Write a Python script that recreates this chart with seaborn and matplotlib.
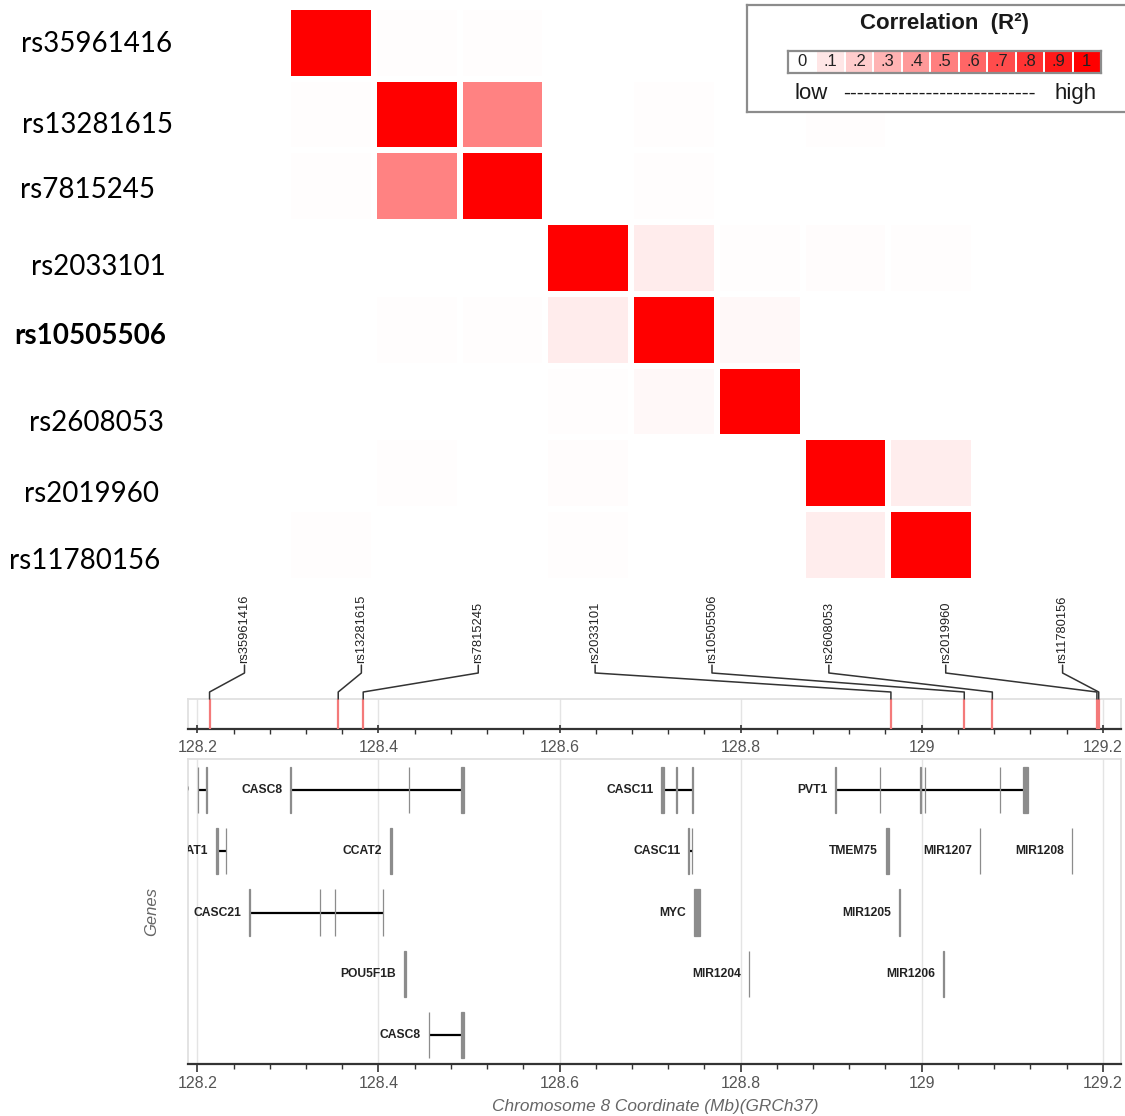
"""
LD matrix of 8 SNPs around 8q24 (chr8, GRCh37) with SNP position track and gene track.
"""

import numpy as np
import pandas as pd
import matplotlib
matplotlib.use('Agg')
import matplotlib.pyplot as plt
import matplotlib.transforms as mtransforms
from matplotlib.colors import LinearSegmentedColormap
from matplotlib.ticker import MultipleLocator, FuncFormatter
import seaborn as sns

# -------------------------------
# 1. DATA
# -------------------------------
snp_ids = ["rs35961416", "rs13281615", "rs7815245", "rs2033101",
           "rs10505506", "rs2608053", "rs2019960", "rs11780156"]
lead_snp = "rs10505506"

# pairwise R2 (symmetric)
ld_r2 = [
    [1.000, 0.010, 0.010, 0.000, 0.000, 0.000, 0.000, 0.008],
    [0.010, 1.000, 0.490, 0.000, 0.008, 0.000, 0.010, 0.000],
    [0.010, 0.490, 1.000, 0.000, 0.008, 0.000, 0.000, 0.000],
    [0.000, 0.000, 0.000, 1.000, 0.075, 0.008, 0.012, 0.008],
    [0.000, 0.008, 0.008, 0.075, 1.000, 0.028, 0.000, 0.000],
    [0.000, 0.000, 0.000, 0.008, 0.028, 1.000, 0.000, 0.000],
    [0.000, 0.010, 0.000, 0.012, 0.000, 0.000, 1.000, 0.072],
    [0.008, 0.000, 0.000, 0.008, 0.000, 0.000, 0.072, 1.000],
]

# SNP positions (Mb, GRCh37)
snp_pos_mb = [128.2135, 128.3556, 128.3832, 128.9660,
              129.0470, 129.0780, 129.1935, 129.1955]

key_levels = [0.0, 0.1, 0.2, 0.3, 0.4, 0.5, 0.6, 0.7, 0.8, 0.9, 1.0]
key_text = ["0", ".1", ".2", ".3", ".4", ".5", ".6", ".7", ".8", ".9", "1"]

gene_names = ["CASC19", "CASC8", "CASC11", "PVT1",
              "CCAT1", "CCAT2", "CASC11", "TMEM75", "MIR1207", "MIR1208",
              "CASC21", "MYC", "MIR1205",
              "POU5F1B", "MIR1204", "MIR1206",
              "CASC8"]
gene_rows = [0, 0, 0, 0,
             1, 1, 1, 1, 1, 1,
             2, 2, 2,
             3, 3, 3,
             4]
gene_exon_starts = [
    [128.2005, 128.2097],
    [128.3027, 128.4334, 128.4915],
    [128.7124, 128.7287, 128.7464],
    [128.9045, 128.9534, 128.9983, 129.0035, 129.0861, 129.1114],
    [128.2203, 128.2316],
    [128.4128],
    [128.7422, 128.7459],
    [128.9606],
    [129.0643],
    [129.1659],
    [128.2575, 128.3351, 128.3517, 128.4050],
    [128.7481],
    [128.9751],
    [128.4283],
    [128.8089],
    [129.0237],
    [128.4558, 128.4915],
]
gene_exon_ends = [
    [128.2010, 128.2102],
    [128.3032, 128.4339, 128.4948],
    [128.7156, 128.7292, 128.7469],
    [128.9050, 128.9539, 128.9988, 129.0040, 129.0866, 129.1177],
    [128.2232, 128.2321],
    [128.4153],
    [128.7427, 128.7464],
    [128.9640],
    [129.0648],
    [129.1664],
    [128.2580, 128.3356, 128.3522, 128.4055],
    [128.7548],
    [128.9756],
    [128.4309],
    [128.8094],
    [129.0242],
    [128.4563, 128.4948],
]

# -------------------------------
# 2. FIGURE SETUP
# -------------------------------
sns.set_style('white')
plt.rcParams['font.family'] = ['Liberation Sans', 'DejaVu Sans']

W, H = 1125, 1116
fig = plt.figure(figsize=(W / 100, H / 100), dpi=100)


def add_px_axes(left, top, right, bottom):
    return fig.add_axes([left / W, 1 - bottom / H, (right - left) / W, (bottom - top) / H])


ld_cmap = LinearSegmentedColormap.from_list('ld', ['#ffffff', '#ff0000'])
x_lo, x_hi = 128.1897, 129.2201

# -------------------------------
# 3. LD HEATMAP
# -------------------------------
ax_hm = add_px_axes(288, 7, 974, 581)
ld_df = pd.DataFrame(ld_r2, index=snp_ids, columns=snp_ids)
sns.heatmap(ld_df, cmap=ld_cmap, vmin=0, vmax=1, cbar=False,
            linewidths=3.0, linecolor='white',
            xticklabels=False, yticklabels=False, ax=ax_hm)

# row labels were placed by hand in the original, so nudge each one
label_dx = [4, 4, -5, 5, -3, 3, -1, -8]
label_dy = [-1, 8, 1, 6, 4, 19, 18, 13]
blend = mtransforms.blended_transform_factory(fig.transFigure, ax_hm.transData)
for i, name in enumerate(snp_ids):
    tr = mtransforms.offset_copy(blend, fig=fig, x=label_dx[i], y=-label_dy[i], units='dots')
    ax_hm.text(93 / W, i + 0.5, name, transform=tr, ha='center', va='center_baseline',
               fontsize=20, family=['Lato', 'DejaVu Sans'],
               weight='bold' if name == lead_snp else 'normal', color='black',
               clip_on=False)

# -------------------------------
# 4. LEGEND BOX (drawn over the heatmap)
# -------------------------------
ax_lg = add_px_axes(747, 5, 1140, 112)
ax_lg.set_zorder(5)
ax_lg.set_facecolor('white')
ax_lg.set_xlim(747, 1140)
ax_lg.set_ylim(112, 5)
ax_lg.set_xticks([])
ax_lg.set_yticks([])
for sp in ax_lg.spines.values():
    sp.set_visible(True)
    sp.set_color('#8c8c8c')
    sp.set_linewidth(1.6)
ax_lg.text(945, 24, "Correlation  (R\u00b2)", ha='center', va='center',
           fontsize=16, weight='bold', color='#1a1a1a')
ax_lg.text(795, 93, "low", ha='left', va='center', fontsize=16, color='#1a1a1a')
ax_lg.text(1097, 93, "high", ha='right', va='center', fontsize=16, color='#1a1a1a')
ax_lg.text(939, 93, "-" * 28, ha='center', va='center', fontsize=15, color='#1a1a1a')

ax_key = add_px_axes(788, 51, 1101, 73)
ax_key.set_zorder(6)
sns.heatmap(pd.DataFrame([key_levels]), annot=np.array([key_text]), fmt='',
            cmap=ld_cmap, vmin=0, vmax=1, cbar=False,
            linewidths=1.4, linecolor='white',
            xticklabels=False, yticklabels=False,
            annot_kws=dict(fontsize=12, color='#222222'), ax=ax_key)
for sp in ax_key.spines.values():
    sp.set_visible(True)
    sp.set_color('#8c8c8c')
    sp.set_linewidth(1.6)


# -------------------------------
# 5. TRACK AXES STYLE
# -------------------------------
def style_track(ax, major_dir, major_len, pad):
    ax.set_xlim(x_lo, x_hi)
    ax.set_yticks([])
    ax.xaxis.set_major_locator(MultipleLocator(0.2))
    ax.xaxis.set_minor_locator(MultipleLocator(0.04))
    ax.xaxis.set_major_formatter(FuncFormatter(lambda v, p: f"{v:g}"))
    ax.grid(axis='x', which='major', color='#e4e4e4', lw=1.0, zorder=0)
    ax.set_axisbelow(True)
    for side in ['top', 'left', 'right']:
        ax.spines[side].set_visible(True)
        ax.spines[side].set_color('#e0e0e0')
        ax.spines[side].set_linewidth(1.3)
    ax.spines['bottom'].set_visible(True)
    ax.spines['bottom'].set_color('#333333')
    ax.spines['bottom'].set_linewidth(1.6)
    ax.tick_params(axis='x', which='major', bottom=True, direction=major_dir,
                   length=major_len, width=1.2, color='#333333',
                   labelsize=11.5, labelcolor='#555555', pad=pad)
    ax.tick_params(axis='x', which='minor', bottom=True, direction='out',
                   length=3.5, width=1.0, color='#333333')


# -------------------------------
# 6. SNP POSITION TRACK
# -------------------------------
ax_snp = add_px_axes(188, 699, 1121, 729)
style_track(ax_snp, 'inout', 6.0, 5.0)
ax_snp.set_ylim(0, 1)
ax_snp.vlines(snp_pos_mb, 0, 1, color='#f47a7a', lw=1.6, zorder=3)

label_x = np.linspace(128.2521, 129.1556, len(snp_ids))
for lx, pos, name in zip(label_x, snp_pos_mb, snp_ids):
    ax_snp.plot([lx, lx, pos, pos], [2.13, 1.867, 1.233, 1.0],
                color='#333333', lw=1.1, clip_on=False, zorder=4)
    ax_snp.text(lx, 2.2, name, rotation=90, ha='center', va='bottom',
                fontsize=9.3, color='#222222', clip_on=False)

# -------------------------------
# 7. GENE TRACK
# -------------------------------
ax_gene = add_px_axes(188, 759, 1121, 1064)
style_track(ax_gene, 'out', 5.5, 3.5)
ax_gene.set_ylim(4.475, -0.508)

exon_h = 0.754
for name, row, starts, ends in zip(gene_names, gene_rows, gene_exon_starts, gene_exon_ends):
    g_start, g_end = min(starts), max(ends)
    ax_gene.hlines(row, g_start, g_end, color='black', lw=1.6, zorder=2)
    ax_gene.bar(starts, exon_h, width=np.subtract(ends, starts), bottom=row - exon_h / 2,
                align='edge', color='#8c8c8c', edgecolor='#8c8c8c', lw=0.9, zorder=3)
    tr = mtransforms.offset_copy(ax_gene.transData, fig=fig, x=-8, y=0, units='dots')
    ax_gene.text(g_start, row, name, transform=tr, ha='right', va='center',
                 fontsize=8.7, weight='bold', color='#222222', clip_on=True)

ax_gene.text((152 - 188) / 933, 0.5, "Genes", transform=ax_gene.transAxes,
             rotation=90, ha='center', va='center', fontsize=12,
             style='italic', color='#666666')
ax_gene.text(0.5005, -(1107 - 1064) / 305, "Chromosome 8 Coordinate (Mb)(GRCh37)",
             transform=ax_gene.transAxes, ha='center', va='center',
             fontsize=12.4, style='italic', color='#666666')

plt.savefig('out.png', dpi=100)
plt.close()
